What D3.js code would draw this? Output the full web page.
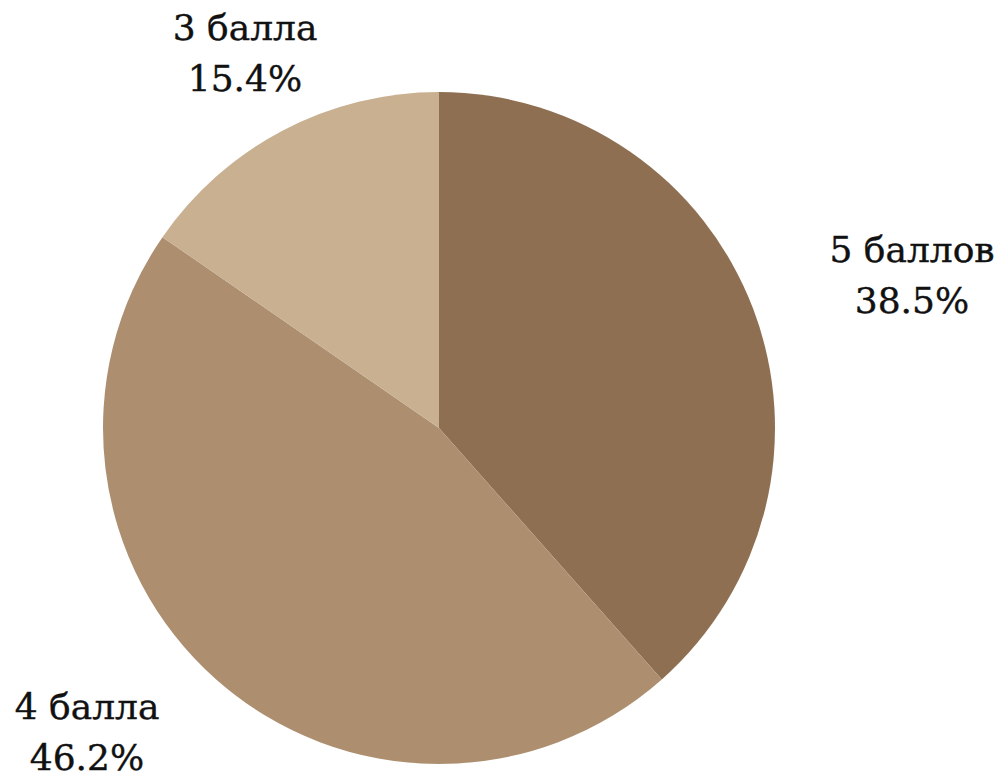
<!DOCTYPE html>
<html lang="ru">
<head>
  <meta charset="utf-8">
  <title>Баллы</title>
  <script src="https://cdn.jsdelivr.net/npm/d3@7"></script>
  <style>
    body { margin: 0; background: #fff; }
    .label { font: 36px 'DejaVu Serif', serif; fill: #111; stroke: #111; stroke-width: 0.4px; text-anchor: middle; }
  </style>
</head>
<body>
  <div id="chart"></div>
  <script>
    // данные
    const categories = ["5 баллов", "4 балла", "3 балла"];
    const shares = [38.5, 46.2, 15.4];
    const colors = ["#8f6f52", "#ad8f70", "#c8b090"];

    const width = 1008, height = 780;
    const cx = 439, cy = 428, radius = 336;
    // положение подписей (базовая линия первой строки)
    const labelPos = [[912, 262], [87, 719], [245, 40]];
    const lineGap = 51;

    const svg = d3.select("#chart").append("svg")
      .attr("width", width).attr("height", height);

    const pie = d3.pie().sort(null).value(d => d)(shares);
    const arc = d3.arc().innerRadius(0).outerRadius(radius);

    const g = svg.append("g").attr("transform", `translate(${cx},${cy})`);
    g.selectAll("path")
      .data(pie).enter().append("path")
      .attr("d", arc)
      .attr("fill", (d, i) => colors[i]);

    const lbl = svg.append("g").selectAll("text")
      .data(pie).enter().append("text")
      .attr("class", "label");
    lbl.append("tspan")
      .attr("x", (d, i) => labelPos[i][0])
      .attr("y", (d, i) => labelPos[i][1])
      .text((d, i) => categories[i]);
    lbl.append("tspan")
      .attr("x", (d, i) => labelPos[i][0])
      .attr("y", (d, i) => labelPos[i][1] + lineGap)
      .text((d, i) => shares[i].toFixed(1) + "%");
  </script>
</body>
</html>
